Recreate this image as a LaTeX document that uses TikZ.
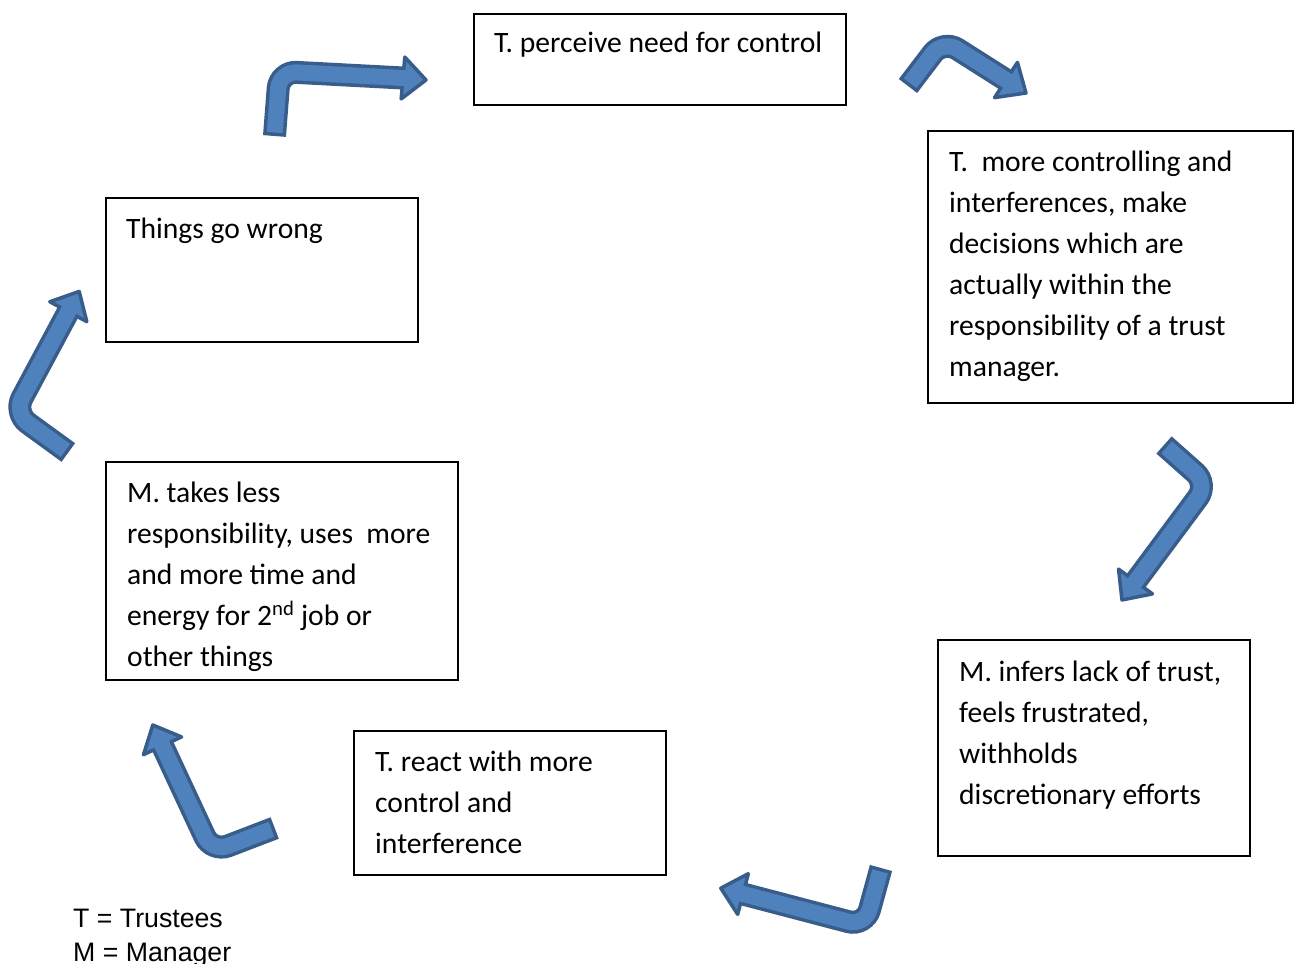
\documentclass[tikz,border=0pt]{standalone}
\usepackage{fontspec}
\setmainfont{Carlito}
\newfontfamily\legendfont{Liberation Sans}
\usetikzlibrary{calc}
\definecolor{alight}{HTML}{4F81BD}
\definecolor{adark}{HTML}{385D8A}
\tikzset{
  box/.style={draw=black, line width=2pt, rectangle, inner sep=0pt},
  txt/.style={anchor=base west, inner sep=0pt, align=left, font=\fontsize{29.6}{41}\selectfont},
  legend/.style={anchor=base west, inner sep=0pt, align=left, font=\legendfont\fontsize{26.7}{34}\selectfont},
  shaftout/.style={draw=adark, line width=23pt, rounded corners=17pt},
  shaftin/.style={draw=alight, line width=16pt, rounded corners=17pt, shorten <=3.5pt, shorten >=-3pt},
  headstyle/.style={fill=alight, draw=adark, line width=3.5pt, line join=round}
}
\newcommand\bentarrow[5]{%
  \coordinate (#1s) at #2;
  \coordinate (#1c) at #3;
  \coordinate (#1b) at #4;
  \coordinate (#1t) at #5;
  \draw[shaftout] (#1s) -- (#1c) -- (#1b);
  \coordinate (#1h1) at ($(#1b)!21pt!90:(#1t)$);
  \coordinate (#1h2) at ($(#1b)!21pt!-90:(#1t)$);
  \filldraw[headstyle] (#1h1) -- (#1t) -- (#1h2) -- cycle;
  \draw[shaftin] (#1s) -- (#1c) -- (#1b);
}
\begin{document}
\begin{tikzpicture}[x=1pt, y=-1pt]
\useasboundingbox (0,0) rectangle (1294,964);
\fill[white] (0,0) rectangle (1294,964);

% boxes
\node[box, minimum width=372pt, minimum height=91pt] (b1) at (660,59.5) {};
\node[box, minimum width=365pt, minimum height=272pt] (b2) at (1110.5,267) {};
\node[box, minimum width=312pt, minimum height=216pt] (b3) at (1094,748) {};
\node[box, minimum width=312pt, minimum height=144pt] (b4) at (510,803) {};
\node[box, minimum width=352pt, minimum height=218pt] (b5) at (282,571) {};
\node[box, minimum width=312pt, minimum height=144pt] (b6) at (262,270) {};

% texts (anchor at baseline of last line)
\node[txt] (t1) at (494,52.5) {T. perceive need for control};
\node[txt] (t2) at (949,376) {T.\ \ more controlling and\\interferences, make\\decisions which are\\actually within the\\responsibility of a trust\\manager.};
\node[txt] (t3) at (959,804) {M. infers lack of trust,\\feels frustrated,\\withholds\\discretionary efforts};
\node[txt] (t4) at (375,853) {T. react with more\\control and\\interference};
\node[txt] (t5) at (127,666) {M. takes less\\responsibility, uses\ \ more\\and more time and\\energy for 2\textsuperscript{nd} job or\\other things};
\node[txt] (t6) at (126,238) {Things go wrong};

% legend
\node[legend] (lg) at (73,961) {T = Trustees\\M = Manager};

% bent arrows
\bentarrow{a1}{(274.5,136)}{(279.5,71.5)}{(403,78)}{(426,80)}
\bentarrow{a2}{(908,86)}{(943,40)}{(1006,80)}{(1026,93)}
\bentarrow{a3}{(1164,445)}{(1208,484)}{(1135.5,581.5)}{(1122,600)}
\bentarrow{a4}{(881,868)}{(865,926)}{(743,894)}{(720.8,888.2)}
\bentarrow{a5}{(274.7,828)}{(212,852)}{(162.5,745.8)}{(152.8,725)}
\bentarrow{a6}{(68.3,452.5)}{(14,413)}{(68.3,311.7)}{(79.2,291.4)}
\end{tikzpicture}
\end{document}
